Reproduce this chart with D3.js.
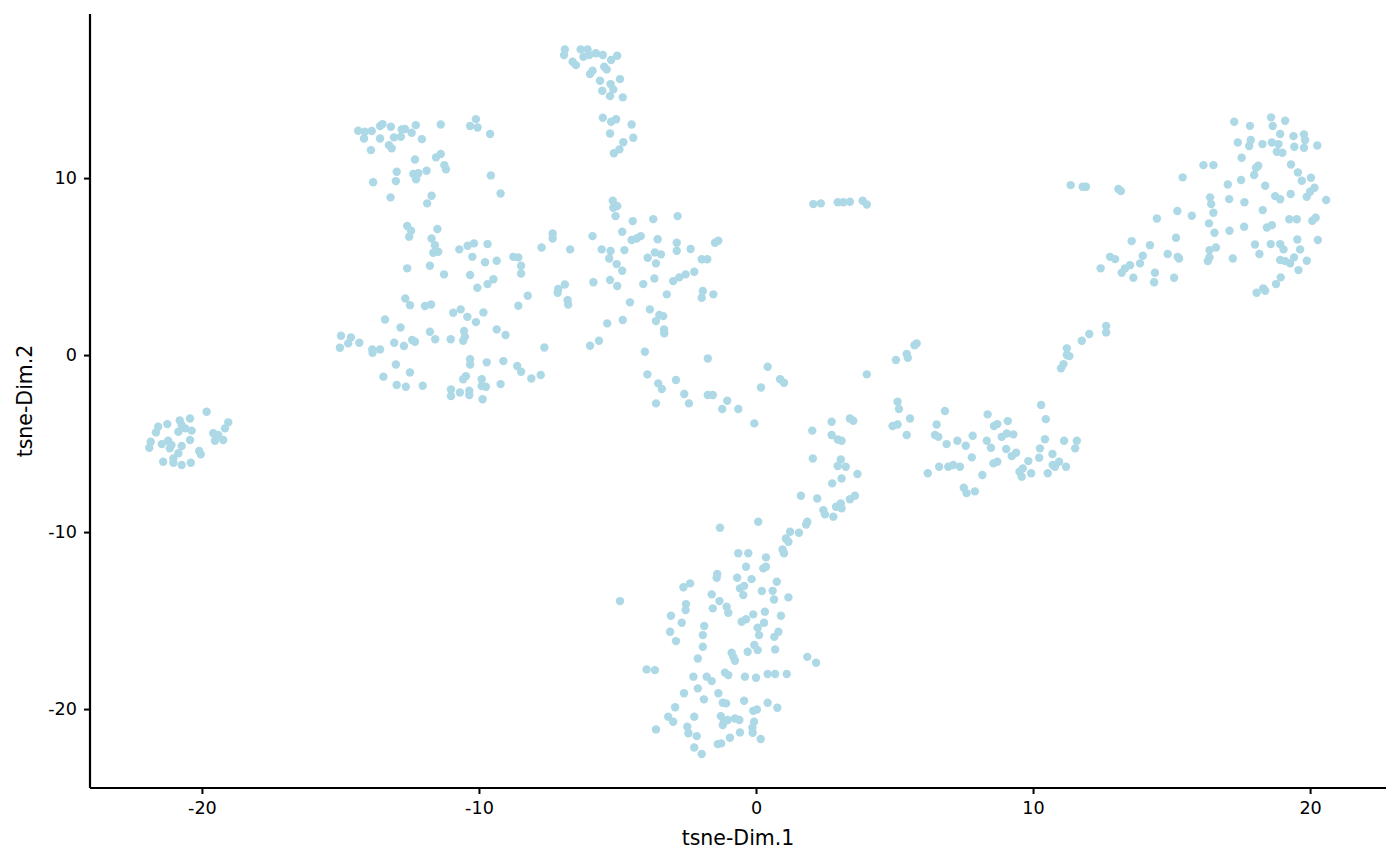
<!DOCTYPE html>
<html>
<head>
<meta charset="utf-8">
<script src="https://cdn.jsdelivr.net/npm/d3@7"></script>
<style>
  body { margin: 0; background: #fff; }
  text { font-family: "DejaVu Sans", sans-serif; }
</style>
</head>
<body>
<svg id="misvg"></svg>
<script>
// t-SNE embedding: [Dim.1, Dim.2]
const leftGroup = [
  [-19.83,-3.2],[-20.43,-3.58],[-20.8,-3.7],[-21.25,-3.9],[-21.58,-4.05],[-21.66,-4.37],[-20.73,-3.95],[-20.6,-4.14],
  [-20.85,-4.33],[-20.37,-4.27],[-19.05,-3.8],[-19.17,-4.14],[-19.59,-4.42],[-19.41,-4.52],[-19.23,-4.8],[-19.53,-4.84],
  [-20.43,-4.8],[-21.22,-4.84],[-21.1,-5.08],[-21.45,-5.03],[-21.85,-4.9],[-21.9,-5.24],[-20.73,-5.14],[-21.16,-5.27],
  [-20.1,-5.42],[-20.04,-5.61],[-20.85,-5.55],[-21.03,-5.84],[-21.4,-6.03],[-21.03,-6.08],[-20.73,-6.21],[-20.4,-6.08]
];
const upperLeftGroup = [
  [-14.36,12.67],[-14.12,12.62],[-13.87,12.66],[-14.15,12.24],[-13.57,12.94],[-13.48,13.05],[-13.57,12.24],[-13.18,12.9],
  [-12.79,12.75],[-12.67,12.77],[-12.43,12.56],[-12.28,12.99],[-13.07,12.3],[-12.82,12.33],[-12.06,12.2],[-11.38,13.03],
  [-13.9,11.58],[-13.25,11.86],[-13.15,11.68],[-12.31,11.05],[-11.55,11.17],[-11.38,11.36],[-11.25,10.73],[-11.19,10.49],
  [-12.97,10.36],[-12.37,10.23],[-12.19,10.27],[-12.27,9.93],[-11.89,10.41],[-13.0,9.83],[-13.82,9.76],[-13.19,8.91],
  [-11.71,9.0],[-11.87,8.57],[-10.32,12.94],[-10.11,13.33],[-10.05,12.86],[-9.6,12.49],[-9.57,10.15],[-9.22,9.13]
];
const midLeftGroup = [
  [-12.59,7.29],[-12.45,7.02],[-12.52,6.69],[-11.5,7.12],[-11.71,6.59],[-11.59,6.21],[-11.65,5.78],[-11.47,5.84],
  [-10.71,5.97],[-10.41,6.18],[-10.18,6.31],[-9.69,6.27],[-10.24,5.55],[-9.78,5.24],[-9.36,5.33],[-8.76,5.55],
  [-8.58,5.52],[-8.48,5.05],[-8.48,4.61],[-7.74,6.08],[-7.34,6.87],[-7.34,6.59],[-12.59,4.9],[-11.77,5.05],
  [-11.26,4.56],[-10.32,4.52],[-9.48,4.28],[-9.69,4.01],[-10.06,3.8],[-8.24,3.35],[-7.14,3.73],[-7.16,3.52],
  [-12.66,3.2],[-12.49,2.82],[-11.95,2.77],[-11.73,2.86],[-10.93,2.39],[-10.66,2.58],[-10.42,2.16],[-9.84,2.41],
  [-10.11,1.86],[-8.58,2.79],[-13.39,2.01],[-12.83,1.56],[-11.77,1.32],[-14.98,1.09],[-14.62,1.0],[-14.72,0.66],
  [-14.32,0.7],[-15.02,0.41],[-13.85,0.32],[-13.84,0.13],[-13.57,0.32],[-13.06,0.7],[-12.71,0.51],[-12.41,0.85],
  [-12.31,0.75],[-11.58,0.89],[-11.02,0.89],[-10.54,1.36],[-10.51,1.03],[-10.57,0.81],[-9.36,1.45],[-9.04,1.13],
  [-7.64,0.43],[-13.0,-0.53],[-12.49,-0.98],[-13.45,-1.22],[-12.97,-1.69],[-12.64,-1.79],[-12.03,-1.73],[-10.32,-0.23],
  [-10.32,-0.53],[-9.72,-0.41],[-9.12,-0.34],[-8.62,-0.62],[-8.48,-0.94],[-8.11,-1.32],[-7.77,-1.13],[-10.47,-1.19],
  [-10.57,-1.37],[-9.9,-1.37],[-9.9,-1.75],[-9.75,-1.79],[-9.22,-1.64],[-11.01,-1.94],[-11.01,-2.32],[-10.69,-2.11],
  [-10.35,-2.02],[-10.35,-2.26],[-9.87,-2.5]
];
const topGroup = [
  [-6.9,17.27],[-6.93,16.95],[-6.62,16.57],[-6.5,16.38],[-6.33,17.27],[-6.08,17.27],[-6.23,16.85],[-6.02,16.95],
  [-5.78,17.05],[-5.53,16.95],[-5.01,16.91],[-5.23,16.67],[-5.48,16.29],[-5.39,16.14],[-5.9,16.06],[-5.99,15.88],
  [-5.63,15.5],[-5.25,15.31],[-4.91,15.59],[-5.55,14.93],[-5.15,15.01],[-5.27,14.63],[-4.81,14.56],[-5.53,13.41],
  [-5.23,13.18],[-5.05,13.32],[-4.49,13.03],[-5.27,12.52],[-4.43,12.28],[-4.79,12.02],[-4.93,11.62],[-5.13,11.4]
];
const centreGroup = [
  [-6.9,3.99],[-6.8,3.1],[-6.78,2.86],[-6.71,5.97],[-5.9,6.72],[-5.57,5.97],[-5.25,5.88],[-5.3,5.46],
  [-5.03,5.14],[-4.83,4.76],[-4.75,5.93],[-5.17,8.72],[-5.15,8.32],[-5.01,8.42],[-5.07,7.85],[-4.83,6.97],
  [-4.45,7.57],[-4.49,6.5],[-4.31,6.59],[-4.16,6.72],[-3.71,7.68],[-2.83,7.85],[-3.55,6.54],[-2.86,6.35],
  [-2.86,5.89],[-2.36,5.99],[-3.91,5.5],[-3.65,5.8],[-3.43,5.69],[-3.61,5.18],[-1.48,6.35],[-1.36,6.46],
  [-1.96,5.41],[-1.76,5.41],[-2.23,4.71],[-2.54,4.56],[-2.77,4.39],[-2.99,4.18],[-3.67,4.33],[-4.07,4.01],
  [-5.87,4.11],[-5.27,4.24],[-5.01,3.9],[-3.22,3.43],[-1.92,3.62],[-1.96,3.24],[-1.54,3.43],[-4.55,2.98],
  [-3.83,2.58],[-3.49,2.26],[-3.35,2.2],[-3.61,1.92],[-3.32,1.45],[-3.31,1.23],[-5.37,1.79],[-4.81,1.98],
  [-5.99,0.53],[-5.67,0.81],[-4.01,0.19],[-1.74,-0.19],[-3.92,-1.09],[-3.53,-1.6],[-3.4,-1.92],[-2.89,-1.41],
  [-2.59,-2.2],[-2.42,-2.73],[-3.61,-2.73],[-1.74,-2.26],[-1.56,-2.26],[-1.22,-3.05],[-1.04,-2.58],[-0.64,-3.05],
  [-0.06,-3.86],[0.42,-0.66],[0.87,-1.37],[1.01,-1.56],[0.18,-1.83]
];
const bridgeGroup = [
  [2.07,8.53],[2.34,8.57],[2.95,8.63],[3.15,8.63],[3.39,8.66],[3.85,8.72],[4.0,8.51],[4.0,-1.09],
  [2.03,-4.27],[2.73,-3.77],[2.73,-4.52],[2.95,-4.77],[3.09,-4.84],[3.39,-3.58],[3.51,-3.71],[2.05,-5.84],
  [3.06,-5.9],[2.95,-6.27],[3.24,-6.31],[3.66,-6.72],[2.75,-7.25],[3.09,-6.97],[1.62,-7.95],[2.21,-8.1],
  [3.39,-8.15],[3.57,-7.95],[2.89,-8.57],[3.06,-8.38],[3.09,-8.66],[2.43,-8.76],[2.49,-9.0],[2.79,-9.13],
  [1.85,-9.42],[1.81,-9.57],[1.23,-9.98],[1.55,-10.04],[1.08,-10.36],[0.08,-9.42],[-1.3,-9.76]
];
const bottomGroup = [
  [1.17,-10.55],[0.96,-10.98],[1.01,-11.2],[-0.64,-11.2],[-0.28,-11.2],[0.36,-11.43],[-0.36,-11.96],[0.26,-12.05],
  [0.36,-11.96],[-1.4,-12.37],[-1.42,-12.58],[-0.68,-12.58],[-0.16,-12.66],[0.75,-12.81],[-2.62,-13.12],[-2.38,-12.9],
  [-0.58,-13.18],[-0.43,-13.05],[-0.46,-13.56],[0.21,-13.33],[0.6,-13.32],[0.65,-13.81],[1.17,-13.69],[-1.6,-13.52],
  [-1.32,-13.9],[-4.91,-13.9],[-2.53,-14.07],[-2.54,-14.41],[-1.56,-14.31],[-1.06,-14.22],[-1.0,-14.56],[0.32,-14.5],
  [0.9,-14.73],[-3.07,-14.73],[-2.68,-15.12],[-1.87,-15.31],[-1.92,-15.82],[-1.92,-16.48],[-3.1,-15.63],[-2.89,-16.16],
  [-0.52,-15.07],[-0.36,-14.93],[-0.1,-14.65],[0.06,-15.41],[0.29,-15.12],[0.11,-15.82],[0.66,-15.92],[0.81,-15.63],
  [-0.06,-16.38],[0.06,-16.67],[-0.3,-16.76],[0.69,-16.63],[-0.88,-16.82],[-0.76,-17.27],[-0.82,-17.05],[-2.1,-17.14],
  [-3.95,-17.76],[-3.65,-17.8],[-2.26,-18.17],[-1.78,-18.17],[-1.6,-18.42],[-1.12,-17.94],[-1.0,-18.08],[-0.4,-18.17],
  [0.0,-18.23],[0.42,-18.02],[0.69,-18.02],[1.11,-18.02],[1.85,-17.05],[2.17,-17.38],[-2.6,-19.11],[-2.1,-18.83],
  [-1.36,-19.11],[-1.88,-19.45],[-1.2,-19.64],[-1.08,-19.68],[-0.43,-19.53],[0.42,-19.64],[0.77,-19.93],[-2.92,-19.9],
  [-3.17,-20.43],[-2.99,-20.72],[-3.61,-21.15],[-2.23,-20.43],[-2.48,-21.0],[-2.44,-21.37],[-2.14,-21.53],[-2.23,-22.17],
  [-1.96,-22.54],[-1.27,-20.4],[-1.16,-20.72],[-1.2,-20.9],[-1.02,-20.62],[-0.76,-20.53],[-0.6,-20.62],[-0.1,-20.1],
  [0.03,-20.02],[-0.07,-20.72],[-0.13,-21.05],[-0.12,-21.34],[-0.58,-21.32],[-0.94,-21.62],[0.17,-21.69],[-1.38,-21.98],
  [-1.26,-21.94]
];
const rightMidGroup = [
  [5.05,-0.28],[5.44,0.06],[5.48,-0.15],[5.72,0.56],[5.8,0.66],[5.11,-2.64],[5.16,-3.05],[4.93,-4.01],
  [5.11,-3.92],[5.44,-4.52],[5.56,-3.58],[6.82,-3.16],[6.52,-3.92],[6.46,-4.52],[6.58,-4.62],[6.88,-5.03],
  [7.27,-4.84],[7.57,-5.12],[7.82,-4.56],[8.36,-3.35],[8.59,-4.01],[8.71,-3.9],[9.09,-3.73],[8.87,-4.62],
  [9.05,-4.43],[9.29,-4.48],[8.33,-4.84],[8.48,-5.24],[9.03,-5.31],[9.23,-5.71],[9.39,-5.52],[7.79,-5.78],
  [8.57,-6.12],[8.71,-6.03],[6.61,-6.31],[6.94,-6.31],[7.12,-6.21],[7.36,-6.31],[6.2,-6.68],[8.17,-6.78],
  [9.51,-6.59],[9.63,-6.4],[9.59,-6.87],[9.83,-5.99],[9.93,-6.68],[10.29,-2.82],[10.46,-3.62],[10.43,-4.76],
  [10.25,-5.27],[10.22,-5.8],[10.7,-5.59],[10.53,-6.68],[10.71,-6.21],[10.94,-6.03],[10.79,-6.31],[11.19,-6.31],
  [11.12,-4.84],[11.52,-5.27],[11.58,-4.84],[7.5,-7.5],[7.6,-7.8],[7.9,-7.7],
  [11.01,-0.75],[11.1,-0.51],[11.22,0.0],[11.22,0.38],[11.31,-0.06],[11.76,0.81],[12.03,1.19],[12.64,1.64],
  [12.64,1.28]
];
const rightGroup = [
  [11.36,9.6],[11.79,9.51],[11.91,9.51],[13.08,9.38],[13.17,9.27],[15.4,10.04],[16.15,10.73],[16.51,10.73],
  [17.26,13.18],[17.83,12.95],[18.59,13.43],[18.65,12.94],[19.1,13.24],[18.92,12.49],[19.4,12.37],[19.78,12.47],
  [19.82,12.15],[19.78,11.71],[19.43,11.77],[20.26,11.84],[17.39,12.01],[17.86,12.15],[17.8,11.81],[18.28,11.92],
  [18.62,12.01],[18.86,11.92],[18.8,11.49],[19.0,11.43],[17.53,11.15],[18.13,10.7],[18.05,10.58],[19.31,10.77],
  [19.56,10.32],[19.7,9.85],[20.03,10.02],[17.98,10.17],[17.51,9.89],[17.03,9.64],[18.38,9.57],[20.16,9.45],
  [20.0,9.23],[19.88,8.94],[20.58,8.76],[19.3,9.1],[18.74,8.98],[18.92,8.8],[16.39,8.91],[16.43,8.53],
  [16.51,8.04],[17.08,8.81],[17.63,8.63],[18.29,8.19],[15.21,8.14],[15.73,7.87],[14.47,7.72],[16.35,7.44],
  [16.55,6.91],[17.09,7.02],[17.62,7.25],[18.44,7.21],[18.62,7.34],[19.25,7.67],[19.52,7.67],[20.08,7.59],
  [20.2,7.76],[20.28,6.5],[19.54,6.53],[18.92,6.27],[19.04,5.97],[18.58,6.27],[18.01,6.25],[18.17,5.71],
  [19.64,5.97],[18.92,5.37],[19.1,5.31],[19.28,5.18],[19.42,5.52],[19.88,5.33],[19.58,4.8],[18.94,4.39],
  [18.77,4.01],[18.31,3.77],[18.38,3.63],[18.07,3.52],[17.21,5.46],[16.6,6.08],[16.37,5.93],[16.37,5.52],
  [16.31,5.31],[15.16,6.63],[14.86,5.71],[15.22,5.55],[15.27,5.46],[14.22,6.21],[13.56,6.44],[13.96,5.61],
  [13.86,5.18],[12.78,5.55],[12.96,5.42],[13.5,5.08],[13.32,4.9],[13.2,4.65],[12.44,4.9],[13.62,4.37],
  [14.4,4.65],[14.37,4.11],[15.09,4.37]
];

const xTicks = [-20, -10, 0, 10, 20];
const yTicks = [-20, -10, 0, 10];
const xTitle = "tsne-Dim.1";
const yTitle = "tsne-Dim.2";

const data = [].concat(leftGroup, upperLeftGroup, midLeftGroup, topGroup, centreGroup,
  bridgeGroup, bottomGroup, rightMidGroup, rightGroup);

const margin = { top: 14, right: 14, bottom: 78, left: 90 };
const width = 1400 - margin.left - margin.right;
const height = 866 - margin.top - margin.bottom;

const svg = d3.select("#misvg")
  .attr("width", width + margin.left + margin.right)
  .attr("height", height + margin.top + margin.bottom);

const g = svg.append("g")
  .attr("transform", "translate(" + margin.left + "," + margin.top + ")");

const x = d3.scaleLinear().domain([-24.04, 22.74]).range([0, width]);
const y = d3.scaleLinear().domain([-24.46, 19.27]).range([height, 0]);

g.selectAll(".pt")
  .data(data)
  .enter().append("circle")
  .attr("class", "pt")
  .attr("cx", d => x(d[0]))
  .attr("cy", d => y(d[1]))
  .attr("r", 4.2)
  .attr("fill", "#ADD8E6");

// ggplot prints a plain hyphen for negatives
const fmt = d => String(d);

const xAxis = g.append("g")
  .attr("transform", "translate(0," + height + ")")
  .call(d3.axisBottom(x).tickValues(xTicks).tickSize(6).tickPadding(8).tickFormat(fmt));

const yAxis = g.append("g")
  .call(d3.axisLeft(y).tickValues(yTicks).tickSize(6).tickPadding(7).tickFormat(fmt));

[xAxis, yAxis].forEach(a => {
  a.select(".domain").attr("stroke", "#000").attr("stroke-width", 2.2).attr("d",
    a === xAxis ? "M0,0H" + width : "M0,0V" + height);
  a.selectAll(".tick line").attr("stroke", "#000").attr("stroke-width", 2);
  a.selectAll(".tick text").attr("fill", "#000").style("font-size", "17.6px")
    .style("font-family", "DejaVu Sans, sans-serif");
});

svg.append("text")
  .attr("x", margin.left + width / 2)
  .attr("y", 845)
  .attr("text-anchor", "middle")
  .style("font-size", "20.5px")
  .text(xTitle);

svg.append("text")
  .attr("transform", "translate(32," + (margin.top + height / 2) + ") rotate(-90)")
  .attr("text-anchor", "middle")
  .style("font-size", "20.5px")
  .text(yTitle);
</script>
</body>
</html>
